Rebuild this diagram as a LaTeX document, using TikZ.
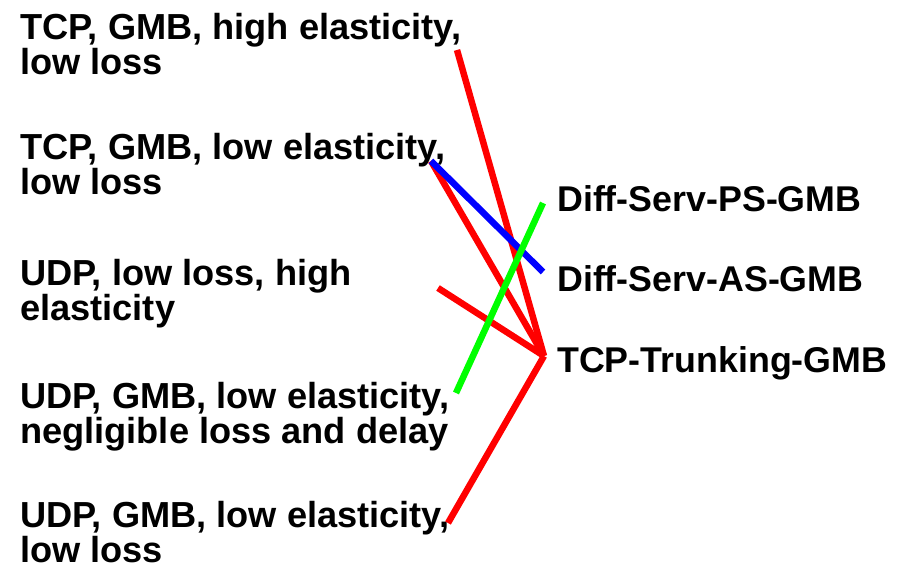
\documentclass[tikz,border=0pt]{standalone}
\usepackage{xcolor}
\usepackage{fontspec}
\setmainfont{Liberation Sans}
\usepackage{tikz}
\tikzstyle{textBK} = [anchor=north west, inner sep=0pt, align=left, font=\fontsize{36.2}{35.5}\selectfont\bfseries]
\tikzstyle{textRT} = [anchor=base west, inner sep=0pt, font=\fontsize{35.8}{34}\selectfont\bfseries]
\tikzstyle{lineRD} = [draw, red, line width=6.5pt]
\tikzstyle{lineBL} = [draw, blue, line width=6.5pt]
\tikzstyle{lineGR} = [draw, green, line width=6.5pt]

\begin{document}
\begin{tikzpicture}[x=1pt, y=-1pt]
  \useasboundingbox (0,0) rectangle (906,569);
    % nodes
    \node [textBK] (tcp_high) at (20,13) {TCP, GMB, high elasticity,\\low loss};
    \node [textBK] (tcp_low) at (20,133) {TCP, GMB, low elasticity,\\low loss};
    \node [textBK] (udp_high) at (20,259) {UDP, low loss, high\\elasticity};
    \node [textBK] (udp_negl) at (20,382) {UDP, GMB, low elasticity,\\negligible loss and delay};
    \node [textBK] (udp_low) at (20,501) {UDP, GMB, low elasticity,\\low loss};

    \node [textRT] (ds_ps) at (557,212) {Diff-Serv-PS-GMB};
    \node [textRT] (ds_as) at (557,292) {Diff-Serv-AS-GMB};
    \node [textRT] (trunk) at (557,373) {TCP-Trunking-GMB};

    % line ends
    \coordinate (tcp_high_e) at (457,50);
    \coordinate (tcp_low_e) at (431,161);
    \coordinate (udp_high_e) at (438,288);
    \coordinate (udp_negl_e) at (456,393);
    \coordinate (udp_low_e) at (448,523);
    \coordinate (ds_ps_e) at (543,203);
    \coordinate (ds_as_e) at (543,272);
    \coordinate (trunk_e) at (544,356);

    % edges
    \path [lineRD] (tcp_high_e) -- (trunk_e);
    \path [lineRD] (tcp_low_e) -- (trunk_e);
    \path [lineRD] (udp_high_e) -- (trunk_e);
    \path [lineRD] (udp_low_e) -- (trunk_e);
    \path [lineBL] (tcp_low_e) -- (ds_as_e);
    \path [lineGR] (udp_negl_e) -- (ds_ps_e);
\end{tikzpicture}
\end{document}
